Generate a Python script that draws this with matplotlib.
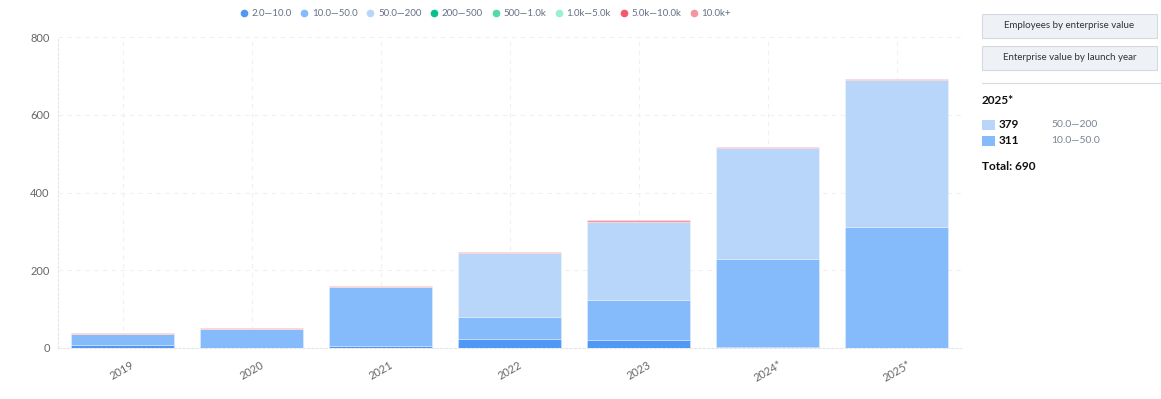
import matplotlib
matplotlib.use("Agg")
import matplotlib.pyplot as plt
from matplotlib.patches import Rectangle
from matplotlib.lines import Line2D
import numpy as np

plt.rcParams['font.family'] = ['Lato', 'DejaVu Sans']

years = ["2019", "2020", "2021", "2022", "2023", "2024*", "2025*"]
series_names = ["2.0—10.0", "10.0—50.0", "50.0—200", "200—500", "500—1.0k", "1.0k—5.0k", "5.0k—10.0k", "10.0k+"]
colors = ["#4f98f5", "#85bbfa", "#b7d6fa", "#0bbf8a", "#4fdca6", "#9cf0d2", "#f5576c", "#f4959f"]

s_2_10 = [8, 0, 4, 23, 21, 2, 0]
s_10_50 = [28, 48, 152, 57, 102, 228, 311]
s_50_200 = [0, 0, 0, 164, 202, 284, 379]
s_200_500 = [0, 0, 0, 0, 0, 0, 0]
s_500_1k = [0, 0, 0, 0, 0, 0, 0]
s_1k_5k = [0, 0, 0, 0, 0, 0, 0]
s_5k_10k = [0, 0, 0, 0, 0, 0, 0]
s_10k_plus = [3, 3, 3, 4, 4, 3, 3]

data = [s_2_10, s_10_50, s_50_200, s_200_500, s_500_1k, s_1k_5k, s_5k_10k, s_10k_plus]

fig = plt.figure(figsize=(11.61, 3.99), dpi=100)
ax = fig.add_axes([58/1161, 51/399, (961-58)/1161, (348-37)/399])

x = np.arange(len(years))
bottom = np.zeros(len(years))
for vals, c in zip(data, colors):
    v = np.array(vals, dtype=float)
    ax.bar(x, v, bottom=bottom, width=0.8, color=c, edgecolor=(1, 1, 1, 0.35), linewidth=0.6, zorder=3)
    bottom += v

ax.set_xlim(-0.5, len(years) - 0.5)
ax.set_ylim(0, 800)
ax.set_yticks([0, 200, 400, 600, 800])
ax.set_xticks(x)
ax.set_xticklabels(years, rotation=30, fontsize=8, color="#666666")
for lbl in ax.get_yticklabels():
    lbl.set_fontsize(8)
    lbl.set_color("#666666")
ax.tick_params(axis='both', length=0, pad=8)
ax.tick_params(axis='y', pad=6)
ax.grid(True, color="#f0f0f0", linestyle=(0, (4, 4)), linewidth=0.8, zorder=0)
for side in ["top", "right"]:
    ax.spines[side].set_visible(False)
for side in ["left", "bottom"]:
    ax.spines[side].set_color("#e6e6e6")
    ax.spines[side].set_linestyle((0, (2, 2)))
    ax.spines[side].set_linewidth(0.8)

# Legend
handles = [Line2D([0], [0], marker='o', linestyle='', markersize=4.5, markerfacecolor=c, markeredgecolor=c) for c in colors]
leg = fig.legend(handles, series_names, loc='center', bbox_to_anchor=(485/1161, 1 - 14/399), ncol=8,
                 frameon=False, fontsize=7, handlelength=1.0, handletextpad=0.3, columnspacing=0.8,
                 labelcolor="#667085")

# Right panel
def button(y_top, text):
    x0, x1 = 982/1161, 1157/1161
    h = 24/399
    y0 = 1 - (y_top + 24)/399
    r = Rectangle((x0, y0), x1 - x0, h, transform=fig.transFigure, facecolor="#eef1f6",
                  edgecolor="#d5dae2", linewidth=0.8)
    fig.add_artist(r)
    fig.text((x0 + x1)/2, y0 + h/2, text, ha='center', va='center', fontsize=7, color="#333333")

button(14, "Employees by enterprise value")
button(46, "Enterprise value by launch year")
fig.add_artist(Line2D([982/1161, 1161/1161], [1 - 83/399, 1 - 83/399], transform=fig.transFigure,
                      color="#d5dae2", linewidth=0.8))
fig.text(982/1161, 1 - 100/399, "2025*", fontsize=8.5, fontweight='bold', color="#111111", va='center')
for i, (val, name, c) in enumerate([(379, "50.0—200", colors[2]), (311, "10.0—50.0", colors[1])]):
    yc = 1 - (125 + i*16)/399
    fig.add_artist(Rectangle((982/1161, yc - 5/399), 13/1161, 10/399, transform=fig.transFigure,
                             facecolor=c, edgecolor='none'))
    fig.text(999/1161, yc, str(val), fontsize=8.5, fontweight='bold', color="#111111", va='center')
    fig.text(1051/1161, yc, name, fontsize=7.5, color="#7a8295", va='center')
fig.text(982/1161, 1 - 166/399, "Total: 690", fontsize=8.5, fontweight='bold', color="#111111", va='center')

fig.savefig("out.png", dpi=100)
